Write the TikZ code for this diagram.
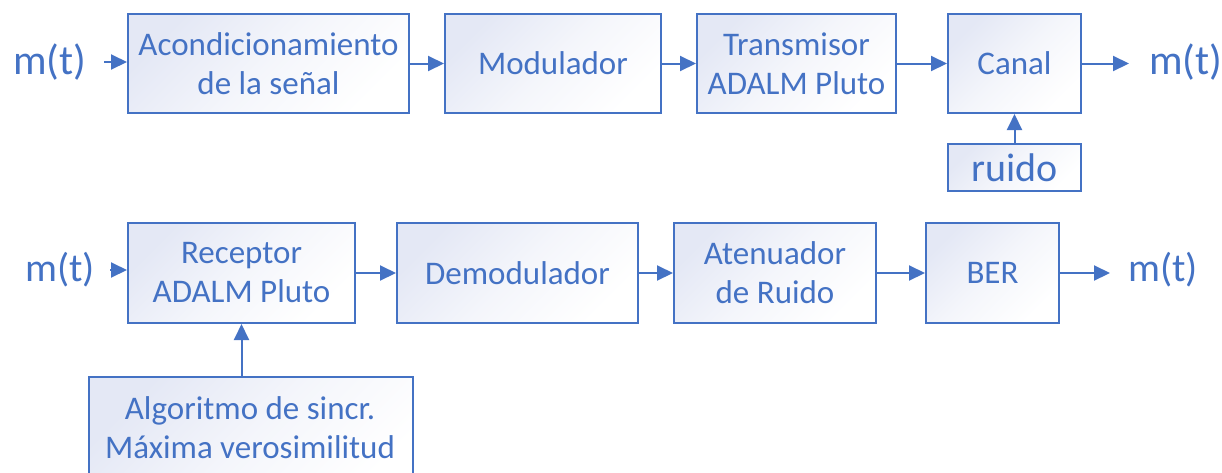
\documentclass[tikz,border=0pt]{standalone}
\usepackage{fontspec}
\setmainfont{Carlito}
\usetikzlibrary{arrows.meta}
\definecolor{bl}{HTML}{4472C4}
\definecolor{shd}{HTML}{E4E8F5}
\tikzset{
  blk/.style={draw=bl, line width=2pt, top color=shd, bottom color=white, middle color=white!60!shd, shading angle=45,
    text=bl, align=center, font=\fontsize{33}{39}\selectfont, inner sep=0pt, anchor=north west},
  lbl/.style={text=bl, align=center, font=\fontsize{33}{39}\selectfont, inner sep=0pt},
  sig/.style={text=bl, font=\fontsize{42}{48}\selectfont, inner sep=0pt},
  arr/.style={draw=bl, line width=2pt, -{Triangle[length=16pt,width=15pt]}}
}
\newcommand{\bx}[6]{\node[blk, minimum width=#4pt-#2pt, minimum height=#5pt-#3pt] (#1) at (#2,#3) {#6};}
\begin{document}
\begin{tikzpicture}[x=1pt,y=-1pt]
\useasboundingbox (0,0) rectangle (1222,472);
% row 1
\bx{acond}{127}{13}{408}{112}{Acondicionamiento\\de la señal}
\bx{mod}{444}{13}{660}{112}{Modulador}
\bx{tx}{696}{13}{895}{112}{Transmisor\\ADALM Pluto}
\bx{canal}{947}{13}{1080}{112}{Canal}
\node[blk, font=\fontsize{40}{46}\selectfont, minimum width=133pt, minimum height=47pt] (ruido) at (947,143) {ruido};
\node[sig, anchor=west] (m1) at (13,62) {m(t)};
\node[sig, anchor=west] (m2) at (1149,62) {m(t)};
\draw[arr, shorten <=18pt] (m1.east) -- (acond.west |- m1.east);
\draw[arr] (acond.east) -- (mod.west);
\draw[arr] (mod.east) -- (tx.west);
\draw[arr] (tx.east) -- (canal.west);
\draw[arr, shorten >=20pt] (canal.east) -- (m2.west |- canal.east);
\draw[arr] (ruido.north) -- (canal.south);
% row 2
\bx{rx}{127}{222}{354}{322}{Receptor\\ADALM Pluto}
\bx{dem}{396}{222}{637}{322}{Demodulador}
\bx{aten}{673}{222}{875}{322}{Atenuador\\de Ruido}
\bx{ber}{925}{222}{1058}{322}{BER}
\bx{alg}{88}{376}{412}{500}{}
\node[lbl] (algt) at (250,428) {Algoritmo de sincr.\\Máxima verosimilitud};
\node[sig, anchor=west, font=\fontsize{40}{46}\selectfont] (m3) at (25,270) {m(t)};
\node[sig, anchor=west, font=\fontsize{40}{46}\selectfont] (m4) at (1128,270) {m(t)};
\draw[arr, shorten <=15pt] (m3.east) -- (rx.west |- m3.east);
\draw[arr] (rx.east) -- (dem.west);
\draw[arr] (dem.east) -- (aten.west);
\draw[arr] (aten.east) -- (ber.west);
\draw[arr, shorten >=18pt] (ber.east) -- (m4.west |- ber.east);
\draw[arr] (rx.south |- alg.north) -- (rx.south);
\end{tikzpicture}
\end{document}
